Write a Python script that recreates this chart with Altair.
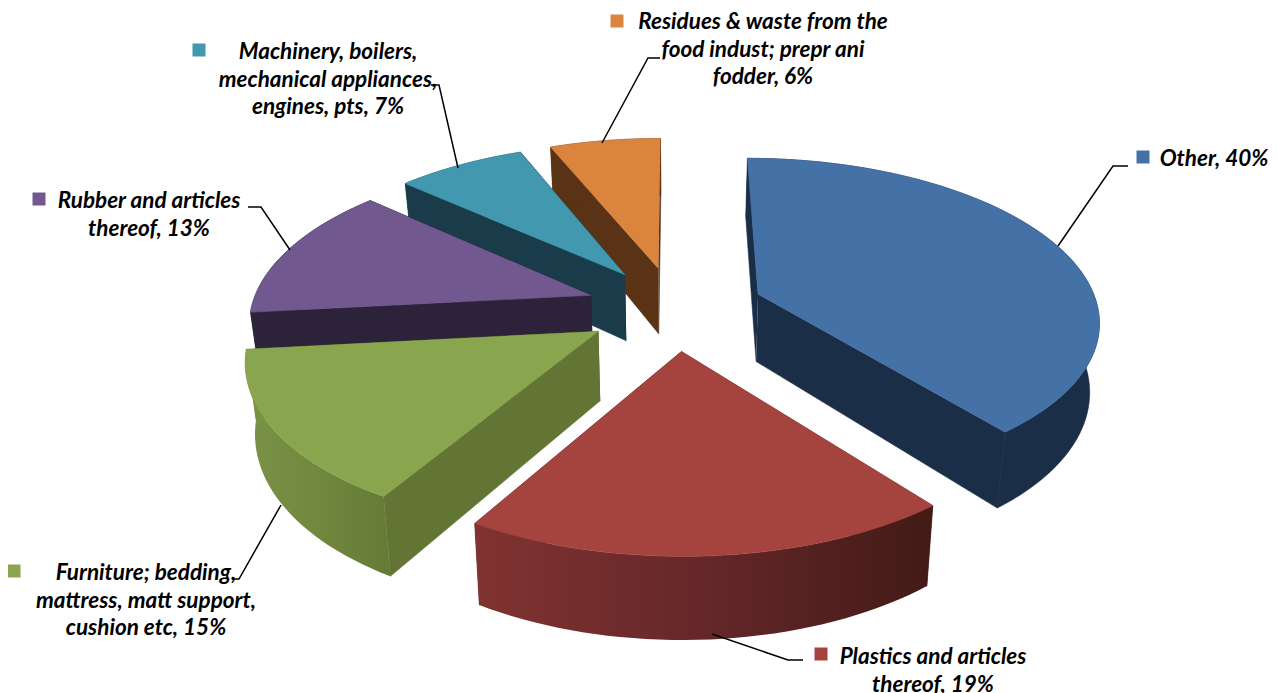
import math
import altair as alt
import pandas as pd

# chart values
categories = ["Other", "Plastics and articles thereof", "Furniture; bedding, mattress, matt support, cushion etc",
              "Rubber and articles thereof", "Machinery, boilers, mechanical appliances, engines, pts",
              "Residues & waste from the food indust; prepr ani fodder"]
labelled_shares = [40, 19, 15, 13, 7, 6]
# slice sizes
shares = [39.3, 19.2, 14.8, 13.3, 7.2, 6.2]

# styling per category
top_colors = ["#4471a6", "#a5443f", "#89a54e", "#71588f", "#4198af", "#db843d"]
wall_colors = ["#1b2e47", "#5e2423", "#627535", "#2c2239", "#1a3c4a", "#5a3317"]
outer_stops = [None,
               ["#803330", "#65272a", "#421a16"],
               ["#7a9345", "#71883f", "#647b37"],
               None, None, None]

label_lines = [["Other, 40%"],
               ["Plastics and articles", "thereof, 19%"],
               ["Furniture; bedding,", "mattress, matt support,", "cushion etc, 15%"],
               ["Rubber and articles", "thereof, 13%"],
               ["Machinery, boilers,", "mechanical appliances,", "engines, pts, 7%"],
               ["Residues & waste from the", "food indust; prepr ani", "fodder, 6%"]]

# layout (page pixels)
label_cx = [1214, 933, 146, 149, 328, 763]
label_y0 = [159, 657, 573, 201, 52, 22]
line_gap = 27.6
key_x = [1143, 821, 14, 39, 199, 617]
key_y = [157, 654, 571, 199, 50, 21]
leaders = [[(1058, 246), (1113, 166), (1128, 166)],
           [(712, 634), (788, 660), (803, 660)],
           [(281, 505), (239, 579), (232, 579)],
           [(290, 250), (261, 207), (248, 207)],
           [(458, 168), (439, 85), (431, 85)],
           [(602, 143), (648, 58), (660, 58)]]

# pie projection
CX, CY = 675, 308
A, B = 340, 160
K = 0.1485
EXPLODE = 0.262
DEPTH = 68
BOTTOM_SHRINK = 0.977
draw_order = [5, 4, 3, 0, 2, 1]


def project(u, v, low=False):
    f = 1 / (1 - K * v)
    x, y = A * u * f, B * v * f
    if low:
        return CX + x * BOTTOM_SHRINK, CY + y + DEPTH * f
    return CX + x, CY + y


sx = alt.Scale(domain=[8, 1269], range=[0, 1261], nice=False, zero=False)
sy = alt.Scale(domain=[8, 693], range=[0, 685], nice=False, zero=False)


def polygon(points, fill, stroke=None, sw=0.6):
    df = pd.DataFrame({"x": [p[0] for p in points], "y": [p[1] for p in points], "i": range(len(points))})
    return alt.Chart(df).mark_line(fill=fill, stroke=stroke or (fill if isinstance(fill, str) else "#666"),
                                   strokeWidth=sw, clip=False).encode(
        x=alt.X("x:Q", scale=sx, axis=None), y=alt.Y("y:Q", scale=sy, axis=None), order="i:Q")


def grad(stops):
    n = len(stops) - 1
    return alt.Gradient(gradient="linear", x1=0, x2=1, y1=0, y2=0,
                        stops=[alt.GradientStop(offset=i / n, color=c) for i, c in enumerate(stops)])


bounds = []
acc = 0
total = sum(shares)
for s in shares:
    bounds.append((acc / total * 2 * math.pi, (acc + s) / total * 2 * math.pi))
    acc += s

layers = []
for idx in draw_order:
    a0, a1 = bounds[idx]
    mid = (a0 + a1) / 2
    ex, ey = EXPLODE * math.sin(mid), -EXPLODE * math.cos(mid)
    steps = max(8, int(shares[idx] * 2))
    arc = [(ex + math.sin(a0 + (a1 - a0) * t / steps), ey - math.cos(a0 + (a1 - a0) * t / steps))
           for t in range(steps + 1)]
    apex_t, apex_b = project(ex, ey), project(ex, ey, True)
    top_arc = [project(u, v) for u, v in arc]
    low_arc = [project(u, v, True) for u, v in arc]
    wall = wall_colors[idx]
    layers.append(polygon([apex_t, top_arc[0], low_arc[0], apex_b], wall))
    layers.append(polygon([apex_t, top_arc[-1], low_arc[-1], apex_b], wall))
    if outer_stops[idx]:
        layers.append(polygon(top_arc + low_arc[::-1], grad(outer_stops[idx]), stroke="transparent", sw=0))
    else:
        layers.append(polygon(top_arc + low_arc[::-1], wall))
    layers.append(polygon([apex_t] + top_arc, top_colors[idx]))

# leader lines
for pts in leaders:
    df = pd.DataFrame({"x": [p[0] for p in pts], "y": [p[1] for p in pts], "i": range(len(pts))})
    layers.append(alt.Chart(df).mark_line(color="black", strokeWidth=1.5).encode(
        x=alt.X("x:Q", scale=sx, axis=None), y=alt.Y("y:Q", scale=sy, axis=None), order="i:Q"))

# legend keys
keys = pd.DataFrame({"x": key_x, "y": key_y, "c": top_colors})
layers.append(alt.Chart(keys).mark_square(size=169, opacity=1, filled=True).encode(
    x=alt.X("x:Q", scale=sx, axis=None), y=alt.Y("y:Q", scale=sy, axis=None),
    color=alt.Color("c:N", scale=None)))

# labels
rows = []
for lines, cx, y0 in zip(label_lines, label_cx, label_y0):
    for j, t in enumerate(lines):
        rows.append({"x": cx, "y": y0 + j * line_gap, "t": t})
layers.append(alt.Chart(pd.DataFrame(rows)).mark_text(
    font="Lato", fontSize=22.5, fontWeight="bold", fontStyle="italic", color="black",
    align="center", baseline="middle").encode(
    x=alt.X("x:Q", scale=sx, axis=None), y=alt.Y("y:Q", scale=sy, axis=None), text="t:N"))

chart = alt.layer(*layers).properties(
    width=1261, height=685, padding=0, autosize=alt.AutoSizeParams(type="none"), background="white"
).configure_view(stroke=None)

chart.save("out.html", embed_options={"renderer": "svg", "actions": False})
